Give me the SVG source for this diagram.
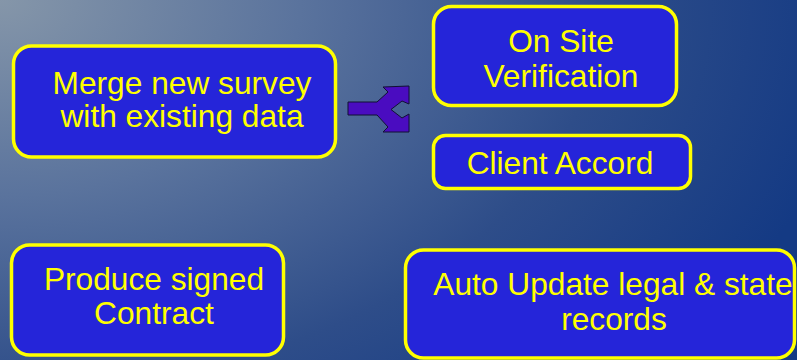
<svg xmlns="http://www.w3.org/2000/svg" width="797" height="360" viewBox="0 0 797 360">
  <defs>
    <radialGradient id="bg" gradientUnits="userSpaceOnUse" cx="0" cy="0" r="860" gradientTransform="scale(1 0.65)">
      <stop offset="0" stop-color="#8596a9"/>
      <stop offset="0.35" stop-color="#5a739d"/>
      <stop offset="0.7" stop-color="#2e4d89"/>
      <stop offset="1" stop-color="#143a84"/>
    </radialGradient>
  </defs>
  <style>
    .box { fill: #2525d9; stroke: #ffff00; stroke-width: 3.5; }
    .lbl { fill: #ffff00; font-family: "Liberation Sans", Arial, sans-serif; font-size: 31.7px; text-anchor: middle; }
    .fork { fill: #4a0cc0; stroke: #111133; stroke-width: 1; stroke-linejoin: miter; }
  </style>
  <rect x="0" y="0" width="797" height="360" fill="url(#bg)"/>

  <g id="merge">
    <rect class="box" x="13.5" y="46" width="322" height="111" rx="18"/>
    <text class="lbl" x="182" y="93.5">Merge new survey</text>
    <text class="lbl" x="182" y="127">with existing data</text>
  </g>

  <g id="onsite">
    <rect class="box" x="433.5" y="6.5" width="243" height="99" rx="18"/>
    <text class="lbl" x="561" y="52">On Site</text>
    <text class="lbl" x="561" y="87">Verification</text>
  </g>

  <g id="client">
    <rect class="box" x="433.5" y="135.5" width="257" height="53" rx="12"/>
    <text class="lbl" x="560" y="174">Client Accord</text>
  </g>

  <g id="contract">
    <rect class="box" x="11.5" y="245" width="272" height="110" rx="18"/>
    <text class="lbl" x="154" y="290">Produce signed</text>
    <text class="lbl" x="154" y="324">Contract</text>
  </g>

  <g id="update">
    <rect class="box" x="405.5" y="250" width="389" height="108" rx="18"/>
    <text class="lbl" x="613" y="295">Auto Update legal &amp; state</text>
    <text class="lbl" x="614" y="330">records</text>
  </g>

  <g id="connectors">
    <polygon class="fork" points="348,102 377,102 388,92 383,87 409,86 409,104 402,101 391,109.5 402,118 409,114 409,132 383,132 388,127 377,115 348,115"/>
  </g>
</svg>
